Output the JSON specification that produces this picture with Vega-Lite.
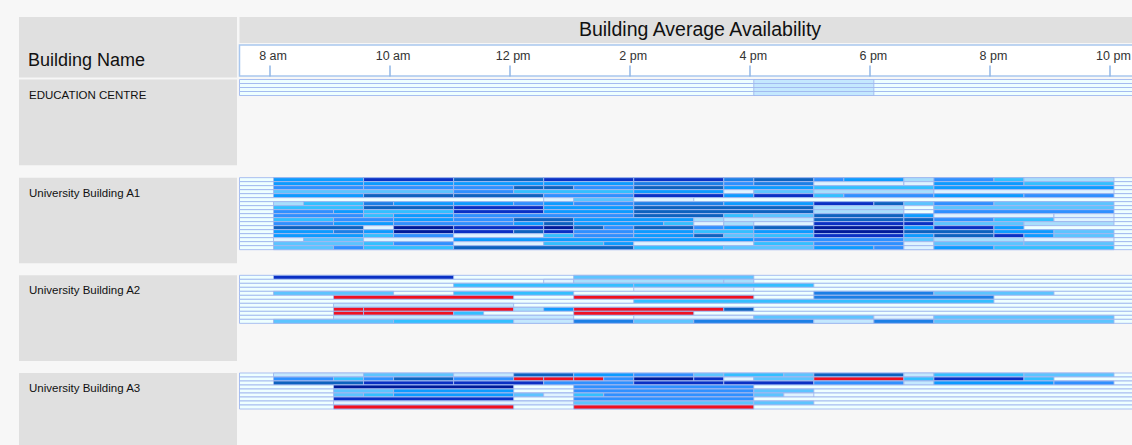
{"$schema":"https://vega.github.io/schema/vega-lite/v6.json","background":"#f7f7f7","padding":{"left":19,"top":17,"right":0,"bottom":0},"autosize":{"type":"pad"},
"config":{"view":{"stroke":null},"concat":{"spacing":0},"rect":{"stroke":"#a0b8ee","strokeWidth":0.9},"text":{"font":"Liberation Sans"}},
"datasets":{
"edu":[{"room":0,"start":450,"end":1343,"avail":100},{"room":1,"start":450,"end":1343,"avail":100},{"room":2,"start":450,"end":1343,"avail":100},{"room":3,"start":450,"end":1343,"avail":100},{"room":0,"start":964,"end":1084,"avail":85},{"room":1,"start":964,"end":1084,"avail":85},{"room":2,"start":964,"end":1084,"avail":85},{"room":3,"start":964,"end":1084,"avail":85}],
"a1":[
{"room":0,"start":450,"end":1343,"avail":100},{"room":0,"start":484,"end":574,"avail":38},{"room":0,"start":574,"end":664,"avail":10},{"room":0,"start":664,"end":754,"avail":20},{"room":0,"start":754,"end":844,"avail":10},{"room":0,"start":844,"end":934,"avail":10},{"room":0,"start":934,"end":964,"avail":30},{"room":0,"start":964,"end":1024,"avail":20},{"room":0,"start":1024,"end":1054,"avail":45},{"room":0,"start":1054,"end":1114,"avail":38},{"room":0,"start":1114,"end":1144,"avail":80},{"room":0,"start":1144,"end":1204,"avail":45},{"room":0,"start":1204,"end":1234,"avail":55},{"room":0,"start":1234,"end":1324,"avail":80},
{"room":1,"start":450,"end":1343,"avail":100},{"room":1,"start":484,"end":574,"avail":38},{"room":1,"start":574,"end":664,"avail":38},{"room":1,"start":664,"end":754,"avail":38},{"room":1,"start":754,"end":844,"avail":38},{"room":1,"start":844,"end":934,"avail":30},{"room":1,"start":934,"end":964,"avail":45},{"room":1,"start":964,"end":1024,"avail":30},{"room":1,"start":1024,"end":1114,"avail":90},{"room":1,"start":1114,"end":1144,"avail":90},{"room":1,"start":1144,"end":1234,"avail":38},{"room":1,"start":1234,"end":1324,"avail":55},
{"room":2,"start":450,"end":1343,"avail":100},{"room":2,"start":484,"end":574,"avail":45},{"room":2,"start":574,"end":664,"avail":45},{"room":2,"start":664,"end":724,"avail":45},{"room":2,"start":724,"end":754,"avail":20},{"room":2,"start":754,"end":784,"avail":20},{"room":2,"start":784,"end":844,"avail":45},{"room":2,"start":844,"end":934,"avail":20},{"room":2,"start":934,"end":1024,"avail":38},{"room":2,"start":1024,"end":1144,"avail":55},{"room":2,"start":1144,"end":1324,"avail":38},
{"room":3,"start":450,"end":1343,"avail":100},{"room":3,"start":484,"end":664,"avail":65},{"room":3,"start":664,"end":724,"avail":45},{"room":3,"start":724,"end":844,"avail":55},{"room":3,"start":844,"end":934,"avail":38},{"room":3,"start":934,"end":964,"avail":90},{"room":3,"start":964,"end":1024,"avail":65},{"room":3,"start":1024,"end":1144,"avail":80},{"room":3,"start":1144,"end":1324,"avail":90},
{"room":4,"start":450,"end":1343,"avail":100},{"room":4,"start":484,"end":574,"avail":38},{"room":4,"start":574,"end":664,"avail":20},{"room":4,"start":664,"end":754,"avail":20},{"room":4,"start":754,"end":844,"avail":45},{"room":4,"start":844,"end":934,"avail":10},{"room":4,"start":934,"end":964,"avail":38},{"room":4,"start":964,"end":1024,"avail":10},{"room":4,"start":1024,"end":1054,"avail":55},{"room":4,"start":1054,"end":1144,"avail":45},{"room":4,"start":1144,"end":1234,"avail":38},{"room":4,"start":1234,"end":1324,"avail":45},
{"room":5,"start":450,"end":1343,"avail":100},{"room":5,"start":754,"end":784,"avail":90},{"room":5,"start":784,"end":844,"avail":65},{"room":5,"start":844,"end":904,"avail":90},
{"room":6,"start":450,"end":1343,"avail":100},{"room":6,"start":484,"end":514,"avail":80},{"room":6,"start":514,"end":574,"avail":55},{"room":6,"start":574,"end":604,"avail":30},{"room":6,"start":604,"end":664,"avail":38},{"room":6,"start":664,"end":724,"avail":38},{"room":6,"start":724,"end":754,"avail":45},{"room":6,"start":754,"end":784,"avail":38},{"room":6,"start":784,"end":844,"avail":45},{"room":6,"start":844,"end":934,"avail":30},{"room":6,"start":934,"end":1024,"avail":38},{"room":6,"start":1024,"end":1084,"avail":10},{"room":6,"start":1084,"end":1114,"avail":20},{"room":6,"start":1114,"end":1144,"avail":65},{"room":6,"start":1144,"end":1204,"avail":45},{"room":6,"start":1204,"end":1324,"avail":65},
{"room":7,"start":450,"end":1343,"avail":100},{"room":7,"start":484,"end":574,"avail":55},{"room":7,"start":574,"end":664,"avail":20},{"room":7,"start":664,"end":754,"avail":10},{"room":7,"start":754,"end":844,"avail":38},{"room":7,"start":844,"end":1024,"avail":20},{"room":7,"start":1024,"end":1114,"avail":80},{"room":7,"start":1114,"end":1144,"avail":100},{"room":7,"start":1144,"end":1324,"avail":65},
{"room":8,"start":450,"end":1343,"avail":100},{"room":8,"start":484,"end":544,"avail":45},{"room":8,"start":544,"end":574,"avail":38},{"room":8,"start":574,"end":664,"avail":55},{"room":8,"start":664,"end":754,"avail":10},{"room":8,"start":754,"end":844,"avail":38},{"room":8,"start":844,"end":1024,"avail":20},{"room":8,"start":1024,"end":1114,"avail":80},{"room":8,"start":1114,"end":1144,"avail":100},{"room":8,"start":1144,"end":1324,"avail":45},
{"room":9,"start":450,"end":1343,"avail":100},{"room":9,"start":484,"end":574,"avail":45},{"room":9,"start":574,"end":604,"avail":55},{"room":9,"start":604,"end":664,"avail":38},{"room":9,"start":664,"end":844,"avail":45},{"room":9,"start":844,"end":934,"avail":20},{"room":9,"start":934,"end":964,"avail":55},{"room":9,"start":964,"end":1024,"avail":65},{"room":9,"start":1024,"end":1114,"avail":20},{"room":9,"start":1114,"end":1144,"avail":38},{"room":9,"start":1144,"end":1264,"avail":90},{"room":9,"start":1264,"end":1324,"avail":90},
{"room":10,"start":450,"end":1343,"avail":100},{"room":10,"start":484,"end":544,"avail":55},{"room":10,"start":544,"end":604,"avail":45},{"room":10,"start":604,"end":664,"avail":38},{"room":10,"start":664,"end":724,"avail":45},{"room":10,"start":724,"end":784,"avail":20},{"room":10,"start":784,"end":904,"avail":38},{"room":10,"start":904,"end":934,"avail":80},{"room":10,"start":934,"end":1024,"avail":85},{"room":10,"start":1024,"end":1114,"avail":20},{"room":10,"start":1114,"end":1144,"avail":20},{"room":10,"start":1144,"end":1204,"avail":45},{"room":10,"start":1204,"end":1264,"avail":55},{"room":10,"start":1264,"end":1324,"avail":90},
{"room":11,"start":450,"end":1343,"avail":100},{"room":11,"start":484,"end":544,"avail":45},{"room":11,"start":544,"end":604,"avail":38},{"room":11,"start":604,"end":724,"avail":45},{"room":11,"start":724,"end":754,"avail":38},{"room":11,"start":754,"end":784,"avail":20},{"room":11,"start":784,"end":874,"avail":38},{"room":11,"start":874,"end":904,"avail":55},{"room":11,"start":904,"end":934,"avail":90},{"room":11,"start":934,"end":964,"avail":80},{"room":11,"start":964,"end":1024,"avail":90},{"room":11,"start":1024,"end":1114,"avail":10},{"room":11,"start":1114,"end":1144,"avail":10},{"room":11,"start":1144,"end":1234,"avail":65},{"room":11,"start":1234,"end":1324,"avail":80},
{"room":12,"start":450,"end":1343,"avail":100},{"room":12,"start":484,"end":574,"avail":20},{"room":12,"start":574,"end":604,"avail":90},{"room":12,"start":604,"end":664,"avail":5},{"room":12,"start":664,"end":754,"avail":10},{"room":12,"start":754,"end":784,"avail":5},{"room":12,"start":784,"end":814,"avail":20},{"room":12,"start":814,"end":844,"avail":45},{"room":12,"start":844,"end":904,"avail":20},{"room":12,"start":904,"end":934,"avail":45},{"room":12,"start":934,"end":964,"avail":38},{"room":12,"start":964,"end":1024,"avail":20},{"room":12,"start":1024,"end":1114,"avail":5},{"room":12,"start":1114,"end":1144,"avail":38},{"room":12,"start":1144,"end":1204,"avail":10},{"room":12,"start":1204,"end":1234,"avail":38},
{"room":13,"start":450,"end":1343,"avail":100},{"room":13,"start":484,"end":544,"avail":38},{"room":13,"start":544,"end":574,"avail":30},{"room":13,"start":574,"end":604,"avail":38},{"room":13,"start":604,"end":664,"avail":5},{"room":13,"start":664,"end":724,"avail":10},{"room":13,"start":724,"end":754,"avail":20},{"room":13,"start":754,"end":784,"avail":10},{"room":13,"start":784,"end":844,"avail":45},{"room":13,"start":844,"end":904,"avail":38},{"room":13,"start":904,"end":964,"avail":55},{"room":13,"start":964,"end":1024,"avail":38},{"room":13,"start":1024,"end":1114,"avail":5},{"room":13,"start":1114,"end":1204,"avail":20},{"room":13,"start":1204,"end":1264,"avail":38},{"room":13,"start":1264,"end":1324,"avail":65},
{"room":14,"start":450,"end":1343,"avail":100},{"room":14,"start":484,"end":574,"avail":38},{"room":14,"start":574,"end":604,"avail":55},{"room":14,"start":604,"end":664,"avail":45},{"room":14,"start":664,"end":754,"avail":90},{"room":14,"start":754,"end":784,"avail":55},{"room":14,"start":784,"end":844,"avail":45},{"room":14,"start":844,"end":904,"avail":38},{"room":14,"start":904,"end":934,"avail":20},{"room":14,"start":934,"end":964,"avail":65},{"room":14,"start":964,"end":1024,"avail":55},{"room":14,"start":1024,"end":1114,"avail":10},{"room":14,"start":1114,"end":1144,"avail":38},{"room":14,"start":1144,"end":1204,"avail":20},{"room":14,"start":1204,"end":1234,"avail":10},{"room":14,"start":1234,"end":1264,"avail":38},{"room":14,"start":1264,"end":1324,"avail":65},
{"room":15,"start":450,"end":1343,"avail":100},{"room":15,"start":484,"end":514,"avail":90},{"room":15,"start":514,"end":574,"avail":65},{"room":15,"start":574,"end":664,"avail":90},{"room":15,"start":664,"end":964,"avail":38},{"room":15,"start":964,"end":1114,"avail":45},{"room":15,"start":1114,"end":1144,"avail":65},{"room":15,"start":1144,"end":1234,"avail":80},{"room":15,"start":1234,"end":1324,"avail":90},
{"room":16,"start":450,"end":1343,"avail":100},{"room":16,"start":484,"end":574,"avail":65},{"room":16,"start":574,"end":604,"avail":55},{"room":16,"start":604,"end":664,"avail":45},{"room":16,"start":664,"end":754,"avail":90},{"room":16,"start":754,"end":814,"avail":55},{"room":16,"start":814,"end":844,"avail":38},{"room":16,"start":844,"end":964,"avail":90},{"room":16,"start":964,"end":1024,"avail":55},{"room":16,"start":1024,"end":1114,"avail":45},{"room":16,"start":1114,"end":1144,"avail":90},{"room":16,"start":1144,"end":1234,"avail":65},{"room":16,"start":1234,"end":1324,"avail":65},
{"room":17,"start":450,"end":1343,"avail":100},{"room":17,"start":484,"end":544,"avail":65},{"room":17,"start":544,"end":574,"avail":45},{"room":17,"start":574,"end":664,"avail":55},{"room":17,"start":664,"end":844,"avail":20},{"room":17,"start":844,"end":934,"avail":55},{"room":17,"start":934,"end":1024,"avail":65},{"room":17,"start":1024,"end":1084,"avail":38},{"room":17,"start":1084,"end":1114,"avail":45},{"room":17,"start":1114,"end":1144,"avail":90},{"room":17,"start":1144,"end":1204,"avail":38},{"room":17,"start":1204,"end":1324,"avail":55}],
"a2":[
{"room":0,"start":450,"end":1343,"avail":100},{"room":0,"start":484,"end":664,"avail":10},{"room":0,"start":784,"end":964,"avail":65},
{"room":1,"start":450,"end":1343,"avail":100},{"room":1,"start":754,"end":784,"avail":90},{"room":1,"start":784,"end":934,"avail":80},{"room":1,"start":934,"end":964,"avail":80},
{"room":2,"start":450,"end":1343,"avail":100},{"room":2,"start":664,"end":844,"avail":55},{"room":2,"start":844,"end":1024,"avail":55},
{"room":3,"start":450,"end":1343,"avail":100},{"room":3,"start":844,"end":964,"avail":90},
{"room":4,"start":450,"end":1343,"avail":100},{"room":4,"start":484,"end":604,"avail":65},{"room":4,"start":664,"end":784,"avail":55},{"room":4,"start":1024,"end":1144,"avail":30},{"room":4,"start":1144,"end":1264,"avail":65},
{"room":5,"start":450,"end":1343,"avail":100},{"room":5,"start":544,"end":724,"avail":0},{"room":5,"start":784,"end":964,"avail":0},{"room":5,"start":1024,"end":1204,"avail":30},
{"room":6,"start":450,"end":1343,"avail":100},{"room":6,"start":844,"end":1204,"avail":55},
{"room":7,"start":450,"end":1343,"avail":100},{"room":7,"start":544,"end":724,"avail":85},
{"room":8,"start":450,"end":1343,"avail":100},{"room":8,"start":544,"end":574,"avail":0},{"room":8,"start":574,"end":724,"avail":0},{"room":8,"start":724,"end":754,"avail":80},{"room":8,"start":754,"end":784,"avail":38},{"room":8,"start":784,"end":934,"avail":0},{"room":8,"start":934,"end":964,"avail":20},
{"room":9,"start":450,"end":1343,"avail":100},{"room":9,"start":544,"end":574,"avail":0},{"room":9,"start":574,"end":664,"avail":0},{"room":9,"start":664,"end":694,"avail":55},{"room":9,"start":784,"end":904,"avail":0},
{"room":10,"start":450,"end":1343,"avail":100},{"room":10,"start":544,"end":784,"avail":85},{"room":10,"start":844,"end":964,"avail":90},{"room":10,"start":964,"end":1084,"avail":65},{"room":10,"start":1084,"end":1144,"avail":90},{"room":10,"start":1144,"end":1324,"avail":65},
{"room":11,"start":450,"end":1343,"avail":100},{"room":11,"start":484,"end":604,"avail":65},{"room":11,"start":604,"end":724,"avail":55},{"room":11,"start":724,"end":784,"avail":85},{"room":11,"start":784,"end":844,"avail":30},{"room":11,"start":844,"end":904,"avail":65},{"room":11,"start":904,"end":1024,"avail":30},{"room":11,"start":1024,"end":1084,"avail":85},{"room":11,"start":1084,"end":1144,"avail":30},{"room":11,"start":1144,"end":1324,"avail":65}],
"a3":[
{"room":0,"start":450,"end":1343,"avail":100},{"room":0,"start":484,"end":574,"avail":85},{"room":0,"start":574,"end":664,"avail":65},{"room":0,"start":664,"end":724,"avail":85},{"room":0,"start":724,"end":784,"avail":20},{"room":0,"start":784,"end":844,"avail":38},{"room":0,"start":844,"end":904,"avail":45},{"room":0,"start":904,"end":934,"avail":65},{"room":0,"start":934,"end":994,"avail":55},{"room":0,"start":994,"end":1024,"avail":65},{"room":0,"start":1024,"end":1114,"avail":20},{"room":0,"start":1114,"end":1144,"avail":85},{"room":0,"start":1144,"end":1234,"avail":55},{"room":0,"start":1234,"end":1324,"avail":65},
{"room":1,"start":450,"end":1343,"avail":100},{"room":1,"start":484,"end":544,"avail":45},{"room":1,"start":544,"end":574,"avail":55},{"room":1,"start":574,"end":604,"avail":45},{"room":1,"start":604,"end":664,"avail":20},{"room":1,"start":664,"end":724,"avail":45},{"room":1,"start":724,"end":754,"avail":0},{"room":1,"start":754,"end":784,"avail":0},{"room":1,"start":784,"end":814,"avail":0},{"room":1,"start":814,"end":844,"avail":45},{"room":1,"start":844,"end":904,"avail":5},{"room":1,"start":904,"end":934,"avail":10},{"room":1,"start":934,"end":964,"avail":90},{"room":1,"start":964,"end":1024,"avail":65},{"room":1,"start":1024,"end":1114,"avail":0},{"room":1,"start":1114,"end":1144,"avail":55},{"room":1,"start":1144,"end":1234,"avail":10},{"room":1,"start":1234,"end":1264,"avail":55},
{"room":2,"start":450,"end":1343,"avail":100},{"room":2,"start":484,"end":574,"avail":20},{"room":2,"start":574,"end":664,"avail":10},{"room":2,"start":664,"end":754,"avail":10},{"room":2,"start":754,"end":844,"avail":45},{"room":2,"start":844,"end":934,"avail":10},{"room":2,"start":934,"end":1024,"avail":10},{"room":2,"start":1024,"end":1114,"avail":45},{"room":2,"start":1114,"end":1144,"avail":85},{"room":2,"start":1144,"end":1264,"avail":38},{"room":2,"start":1264,"end":1324,"avail":45},
{"room":3,"start":450,"end":1343,"avail":100},{"room":3,"start":544,"end":724,"avail":5},{"room":3,"start":784,"end":964,"avail":45},
{"room":4,"start":450,"end":1343,"avail":100},{"room":4,"start":544,"end":604,"avail":65},{"room":4,"start":604,"end":724,"avail":38},{"room":4,"start":784,"end":964,"avail":45},{"room":4,"start":964,"end":1024,"avail":65},
{"room":5,"start":450,"end":1343,"avail":100},{"room":5,"start":544,"end":574,"avail":65},{"room":5,"start":574,"end":604,"avail":55},{"room":5,"start":604,"end":724,"avail":38},{"room":5,"start":724,"end":754,"avail":65},{"room":5,"start":754,"end":784,"avail":90},{"room":5,"start":784,"end":814,"avail":55},{"room":5,"start":814,"end":964,"avail":45},{"room":5,"start":964,"end":994,"avail":65},{"room":5,"start":994,"end":1024,"avail":90},
{"room":6,"start":450,"end":1343,"avail":100},{"room":6,"start":544,"end":724,"avail":10},{"room":6,"start":784,"end":964,"avail":45},
{"room":7,"start":450,"end":1343,"avail":100},{"room":7,"start":544,"end":784,"avail":90},{"room":7,"start":784,"end":964,"avail":65},{"room":7,"start":964,"end":1024,"avail":65},
{"room":8,"start":450,"end":1343,"avail":100},{"room":8,"start":544,"end":724,"avail":0},{"room":8,"start":784,"end":964,"avail":0}]
},
"vconcat":[
{"vconcat":[
{"hconcat":[
{"width":218,"height":60.5,"view":{"fill":"#e0e0e0"},"data":{"values":[{"label":"Building Name"}]},"mark":{"type":"text","align":"left","baseline":"alphabetic","fontSize":18,"color":"#111"},"encoding":{"x":{"value":9},"y":{"value":49},"text":{"field":"label"}}},
{"vconcat":[
{"width":893.5,"height":26,"view":{"fill":"#e0e0e0"},"data":{"values":[{"label":"Building Average Availability"}]},"mark":{"type":"text","align":"center","baseline":"middle","fontSize":19.5,"color":"#111"},"encoding":{"x":{"value":460.5},"y":{"value":13},"text":{"field":"label"}}},
{"width":893.5,"height":31,"view":{"fill":"#ffffff","stroke":"#a9c7ee","strokeWidth":1.5},"data":{"values":[]},"mark":{"type":"rule"},"encoding":{"x":{"field":"start","type":"quantitative","scale":{"domain":[450,1343],"nice":false,"zero":false},"axis":{"orient":"top","offset":-31,"title":null,"domain":false,"grid":false,"values":[480,600,720,840,960,1080,1200,1320],"labelExpr":"datum.value==720?'12 pm':(datum.value<720?datum.value/60+' am':(datum.value-720)/60+' pm')","tickSize":11,"tickColor":"#8fb6e6","tickWidth":1.5,"labelFontSize":12.5,"labelFont":"Liberation Sans","labelColor":"#333","labelPadding":3,"labelOffset":3,"labelBound":false,"labelFlush":false,"labelOverlap":false,"zindex":1}}}}
],"spacing":1}
],"spacing":1.5},
{"hconcat":[
{"width":218,"height":85.67,"view":{"fill":"#e0e0e0"},"data":{"values":[{"label":"EDUCATION CENTRE"}]},"mark":{"type":"text","align":"left","baseline":"middle","fontSize":11.5,"color":"#111"},"encoding":{"x":{"value":10},"y":{"value":16},"text":{"field":"label"}}},
{"width":893.5,"height":85.67,"data":{"name":"edu"},"mark":{"type":"rect"},"encoding":{"x":{"field":"start","type":"quantitative","scale":{"domain":[450,1343],"nice":false,"zero":false},"axis":null},"x2":{"field":"end"},"y":{"field":"room","type":"ordinal","scale":{"domain":[0,1,2,3],"range":[0,16],"paddingInner":0,"paddingOuter":0},"axis":null},"color":{"field":"avail","type":"quantitative","legend":null,"scale":{"domain":[0,5,10,20,30,38,45,55,65,80,90,100],"range":["#f01020","#001a99","#0a30c4","#0d62bf","#1c7fe6","#0d9bff","#2f90ff","#33bfff","#5cc4ff","#a8defc","#dff3ff","#ffffff"]}}}}
],"spacing":1.5}
],"spacing":0.5},
{"hconcat":[
{"width":218,"height":85.67,"view":{"fill":"#e0e0e0"},"data":{"values":[{"label":"University Building A1"}]},"mark":{"type":"text","align":"left","baseline":"middle","fontSize":11.5,"color":"#111"},"encoding":{"x":{"value":10},"y":{"value":16},"text":{"field":"label"}}},
{"width":893.5,"height":85.67,"data":{"name":"a1"},"mark":{"type":"rect"},"encoding":{"x":{"field":"start","type":"quantitative","scale":{"domain":[450,1343],"nice":false,"zero":false},"axis":null},"x2":{"field":"end"},"y":{"field":"room","type":"ordinal","scale":{"domain":[0,1,2,3,4,5,6,7,8,9,10,11,12,13,14,15,16,17],"range":[0,72],"paddingInner":0,"paddingOuter":0},"axis":null},"color":{"field":"avail","type":"quantitative","legend":null,"scale":{"domain":[0,5,10,20,30,38,45,55,65,80,90,100],"range":["#f01020","#001a99","#0a30c4","#0d62bf","#1c7fe6","#0d9bff","#2f90ff","#33bfff","#5cc4ff","#a8defc","#dff3ff","#ffffff"]}}}}
],"spacing":1.5},
{"hconcat":[
{"width":218,"height":85.67,"view":{"fill":"#e0e0e0"},"data":{"values":[{"label":"University Building A2"}]},"mark":{"type":"text","align":"left","baseline":"middle","fontSize":11.5,"color":"#111"},"encoding":{"x":{"value":10},"y":{"value":16},"text":{"field":"label"}}},
{"width":893.5,"height":85.67,"data":{"name":"a2"},"mark":{"type":"rect"},"encoding":{"x":{"field":"start","type":"quantitative","scale":{"domain":[450,1343],"nice":false,"zero":false},"axis":null},"x2":{"field":"end"},"y":{"field":"room","type":"ordinal","scale":{"domain":[0,1,2,3,4,5,6,7,8,9,10,11],"range":[0,48],"paddingInner":0,"paddingOuter":0},"axis":null},"color":{"field":"avail","type":"quantitative","legend":null,"scale":{"domain":[0,5,10,20,30,38,45,55,65,80,90,100],"range":["#f01020","#001a99","#0a30c4","#0d62bf","#1c7fe6","#0d9bff","#2f90ff","#33bfff","#5cc4ff","#a8defc","#dff3ff","#ffffff"]}}}}
],"spacing":1.5},
{"hconcat":[
{"width":218,"height":72,"view":{"fill":"#e0e0e0"},"data":{"values":[{"label":"University Building A3"}]},"mark":{"type":"text","align":"left","baseline":"middle","fontSize":11.5,"color":"#111"},"encoding":{"x":{"value":10},"y":{"value":16},"text":{"field":"label"}}},
{"width":893.5,"height":72,"data":{"name":"a3"},"mark":{"type":"rect"},"encoding":{"x":{"field":"start","type":"quantitative","scale":{"domain":[450,1343],"nice":false,"zero":false},"axis":null},"x2":{"field":"end"},"y":{"field":"room","type":"ordinal","scale":{"domain":[0,1,2,3,4,5,6,7,8],"range":[0,36],"paddingInner":0,"paddingOuter":0},"axis":null},"color":{"field":"avail","type":"quantitative","legend":null,"scale":{"domain":[0,5,10,20,30,38,45,55,65,80,90,100],"range":["#f01020","#001a99","#0a30c4","#0d62bf","#1c7fe6","#0d9bff","#2f90ff","#33bfff","#5cc4ff","#a8defc","#dff3ff","#ffffff"]}}}}
],"spacing":1.5}
],"spacing":10.67}
